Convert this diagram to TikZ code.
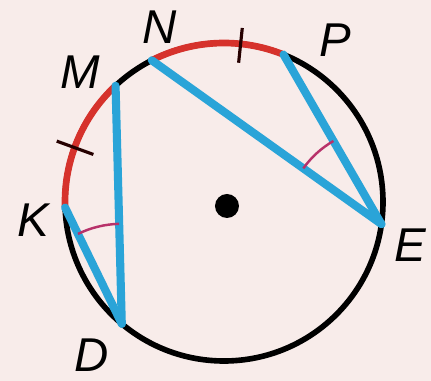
\documentclass[tikz,border=0pt]{standalone}
\usepackage{fontspec}
\setmainfont{Liberation Sans}
\usetikzlibrary{angles}
\definecolor{bgpink}{HTML}{F8ECEA}
\definecolor{arcred}{HTML}{D6322C}
\definecolor{chordblue}{HTML}{2AA4D8}
\definecolor{markred}{HTML}{B8326A}

\begin{document}
\begin{tikzpicture}[
  circ/.style={line width=3.2pt,black},
  redarc/.style={line width=3.8pt,arcred},
  chord/.style={line width=4.6pt,chordblue,line cap=round},
  tickmark/.style={line width=1.8pt,black!85!red},
  anglemark/.style={draw=markred,line width=1.4pt},
  lab/.style={font=\fontsize{27}{30}\selectfont\itshape}]
\useasboundingbox[fill=bgpink] (-4.48,-3.58) rectangle (4.14,4.04);
\coordinate (O) at (0,0);
\coordinate (K) at (182:3.18);
\coordinate (M) at (133:3.18);
\coordinate (N) at (117:3.18);
\coordinate (P) at (68:3.18);
\coordinate (E) at (-8:3.18);
\coordinate (D) at (230:3.18);
\draw[circ] (O) circle (3.18);
\draw[redarc] (K) arc[start angle=182,end angle=133,radius=3.18];
\draw[redarc] (N) arc[start angle=117,end angle=68,radius=3.18];
\draw[chord] (K)--(D);
\draw[chord] (M)--(D);
\draw[chord] (N)--(E);
\draw[chord] (P)--(E);
\pic[anglemark,angle radius=2cm] {angle=M--D--K};
\pic[anglemark,angle radius=1.92cm] {angle=P--E--N};
\draw[tickmark] (160:2.78)--(160:3.56);
\draw[tickmark] (84:2.8)--(84:3.5);
\fill (0.06,-0.08) circle (0.24);
\node[lab] (labK) at (-3.82,-0.36) {K};
\node[lab] (labM) at (-2.88,2.6) {M};
\node[lab] (labN) at (-1.28,3.5) {N};
\node[lab] (labP) at (2.22,3.24) {P};
\node[lab] (labE) at (3.72,-0.86) {E};
\node[lab] (labD) at (-2.64,-3.06) {D};
\end{tikzpicture}
\end{document}
